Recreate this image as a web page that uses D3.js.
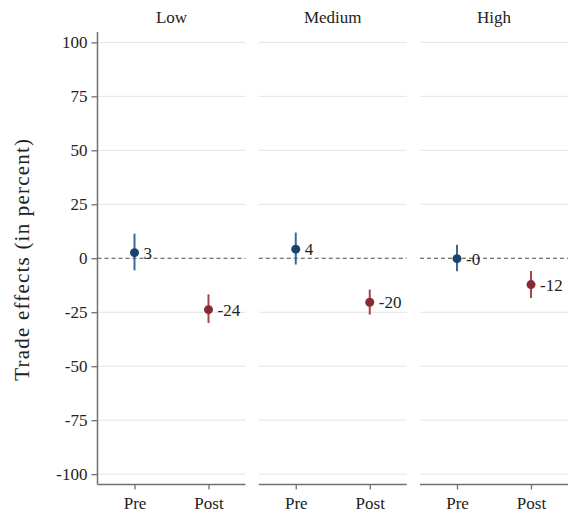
<!DOCTYPE html>
<html>
<head>
<meta charset="utf-8">
<script src="https://cdn.jsdelivr.net/npm/d3@7"></script>
<style>
  html, body { margin: 0; padding: 0; background: #fff; }
  svg text { font-family: "Liberation Serif", "DejaVu Serif", serif; }
</style>
</head>
<body>
<div id="chart"></div>
<script>
// Panels, periods and estimates (percent) with 95% bounds
const groups = ["Low", "Medium", "High"];
const periods = ["Pre", "Post"];
const estPre  = [2.6, 4.2, -0.2];
const lowPre  = [-5.6, -2.9, -6.0];
const highPre = [11.4, 11.9, 6.3];
const estPost  = [-23.8, -20.4, -12.2];
const lowPost  = [-30.0, -26.1, -18.4];
const highPost = [-16.7, -14.5, -5.9];
const yTicks = [-100, -75, -50, -25, 0, 25, 50, 75, 100];

const W = 568, H = 514;
const panelW = 148, panelStep = 161.25, left0 = 97.5;
const plotTop = 32, plotBottom = 484.5;

const colors = {
  Pre:  { dot: "#1a4470", bar: "#3d6a95" },
  Post: { dot: "#8a2a35", bar: "#a3454f" }
};

const rows = [];
groups.forEach((g, i) => {
  rows.push({ group: g, period: "Pre",  est: estPre[i],  lo: lowPre[i],  hi: highPre[i] });
  rows.push({ group: g, period: "Post", est: estPost[i], lo: lowPost[i], hi: highPost[i] });
});

// plain hyphen for negatives, keeps "-0" for small negative estimates
const fmt = v => (v < 0 ? "-" : "") + Math.abs(Math.round(v));

const svg = d3.select("#chart").append("svg")
  .attr("width", W).attr("height", H);

const y = d3.scaleLinear().domain([-104.8, 104.8]).range([plotBottom, plotTop]);
const x = d3.scalePoint().domain(periods).range([0, panelW]).padding(0.5);

groups.forEach((g, i) => {
  const px = left0 + i * panelStep;
  const p = svg.append("g").attr("transform", `translate(${px},0)`);

  // horizontal gridlines
  p.selectAll("line.grid").data(yTicks.filter(t => t !== 0)).join("line")
    .attr("class", "grid")
    .attr("x1", 0).attr("x2", panelW)
    .attr("y1", d => y(d)).attr("y2", d => y(d))
    .attr("stroke", "#e4e4e4").attr("stroke-width", 1);

  // zero reference
  p.append("line")
    .attr("x1", 0).attr("x2", panelW)
    .attr("y1", y(0)).attr("y2", y(0))
    .attr("stroke", "#4a4a4a").attr("stroke-width", 1)
    .attr("stroke-dasharray", "4,3");

  // panel title
  p.append("text")
    .attr("x", panelW / 2).attr("y", 23)
    .attr("text-anchor", "middle")
    .attr("font-size", 17).attr("fill", "#222")
    .text(g);

  // bottom axis
  const xa = p.append("g")
    .attr("transform", `translate(0,${plotBottom})`)
    .call(d3.axisBottom(x).tickSize(5).tickPadding(7).tickSizeOuter(0));
  xa.attr("font-family", null);
  xa.select(".domain").attr("stroke", "#707070").attr("stroke-width", 1.5)
    .attr("d", `M0,0H${panelW}`);
  xa.selectAll(".tick line").attr("stroke", "#707070").attr("stroke-width", 1.3);
  xa.selectAll(".tick text").attr("font-size", 17).attr("fill", "#222");

  if (i === 0) {
    const ya = p.append("g")
      .call(d3.axisLeft(y).tickValues(yTicks).tickFormat(fmt)
        .tickSize(6).tickPadding(4).tickSizeOuter(0));
    ya.attr("font-family", null);
    ya.select(".domain").attr("stroke", "#707070").attr("stroke-width", 1.5)
      .attr("d", `M0,${plotTop}V${plotBottom}`);
    ya.selectAll(".tick line").attr("stroke", "#707070").attr("stroke-width", 1.3);
    ya.selectAll(".tick text").attr("font-size", 17).attr("fill", "#222");
  }

  const data = rows.filter(r => r.group === g);

  // confidence intervals
  p.selectAll("line.ci").data(data).join("line")
    .attr("class", "ci")
    .attr("x1", d => x(d.period)).attr("x2", d => x(d.period))
    .attr("y1", d => y(d.lo)).attr("y2", d => y(d.hi))
    .attr("stroke", d => colors[d.period].bar).attr("stroke-width", 2);

  // point estimates
  p.selectAll("circle.est").data(data).join("circle")
    .attr("class", "est")
    .attr("cx", d => x(d.period)).attr("cy", d => y(d.est))
    .attr("r", 4.5)
    .attr("fill", d => colors[d.period].dot);

  // value labels
  p.selectAll("text.val").data(data).join("text")
    .attr("class", "val")
    .attr("x", d => x(d.period) + 9).attr("y", d => y(d.est))
    .attr("dy", "0.35em")
    .attr("font-size", 17).attr("fill", "#222")
    .text(d => fmt(d.est));
});

// y-axis title
svg.append("text")
  .attr("transform", `translate(29,${(plotTop + plotBottom) / 2 + 1}) rotate(-90)`)
  .attr("text-anchor", "middle")
  .attr("font-size", 21).attr("letter-spacing", 1.2).attr("fill", "#222")
  .text("Trade effects (in percent)");
</script>
</body>
</html>
